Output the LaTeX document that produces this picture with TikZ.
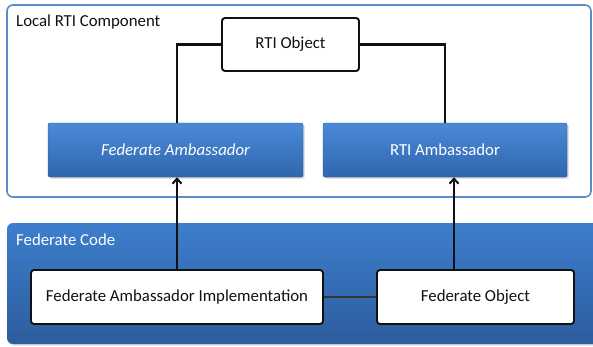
\documentclass[tikz,border=0pt]{standalone}
\usepackage{fontspec}
\setmainfont{Carlito}
\usetikzlibrary{arrows.meta,shadows,calc}
\definecolor{frameblue}{HTML}{5B8BC9}
\definecolor{btop}{HTML}{4A8AD8}
\definecolor{bbot}{HTML}{2F66AD}
\definecolor{ctop}{HTML}{3D7ECD}
\definecolor{cbot}{HTML}{2D5D9D}
\definecolor{ink}{HTML}{111111}
\tikzset{
  x=1pt, y=1pt,
  every node/.style={font=\fontsize{16.8}{19}\selectfont, inner sep=0pt},
  framebox/.style={draw=frameblue, line width=1.6pt, fill=white, rounded corners=6pt},
  bluebox/.style={rectangle, rounded corners=2pt, top color=btop, bottom color=bbot,
    draw=bbot!80!black, line width=0.4pt, text=white,
    drop shadow={shadow xshift=1.5pt, shadow yshift=-1.5pt, opacity=0.35}},
  codebox/.style={rectangle, rounded corners=6pt, top color=ctop, bottom color=cbot,
    draw=none, drop shadow={shadow xshift=1.5pt, shadow yshift=-1.5pt, opacity=0.3}},
  whitebox/.style={rectangle, rounded corners=3pt, draw=ink, line width=1.9pt, fill=white, text=ink},
  link/.style={draw=ink, line width=2.2pt},
  thinlink/.style={draw=ink!85, line width=1.3pt},
  uparrow/.style={link, -{Straight Barb[length=5pt,width=9pt,line width=2pt]}},
}
\begin{document}
\begin{tikzpicture}
\useasboundingbox (0,0) rectangle (593,-346);

% Local RTI component frame
\node[framebox, minimum width=584pt, minimum height=192pt] (local) at (299,-101) {};
\node[anchor=west, text=ink] (locallabel) at (16,-22) {Local RTI Component};

\node[whitebox, minimum width=137pt, minimum height=53pt] (rtiobj) at (290.5,-44.5) {RTI Object};
\node[bluebox, minimum width=255pt, minimum height=54pt] (fedamb) at (175.5,-150) {\itshape Federate Ambassador};
\node[bluebox, minimum width=244pt, minimum height=54pt] (rtiamb) at (445,-150) {RTI Ambassador};

% Federate code panel
\node[codebox, minimum width=596pt, minimum height=121pt] (fedcode) at (305,-283.5) {};
\node[anchor=west, text=white] (codelabel) at (16,-240) {Federate Code};

\node[whitebox, minimum width=292pt, minimum height=54pt] (impl) at (177,-297) {Federate Ambassador Implementation};
\node[whitebox, minimum width=197pt, minimum height=54pt] (fedobj) at (475.5,-297) {Federate Object};

% connectors
\draw[link] (rtiobj.west) -| ([xshift=1.5pt]fedamb.north);
\draw[link] (rtiobj.east) -| (rtiamb.north);
\draw[uparrow] (impl.north) -- (impl.north |- fedamb.south);
\coordinate (objtop) at ([xshift=-21.5pt]fedobj.north);
\draw[uparrow] (objtop) -- (objtop |- rtiamb.south);
\draw[thinlink] (impl.east) -- (fedobj.west);
\end{tikzpicture}
\end{document}
